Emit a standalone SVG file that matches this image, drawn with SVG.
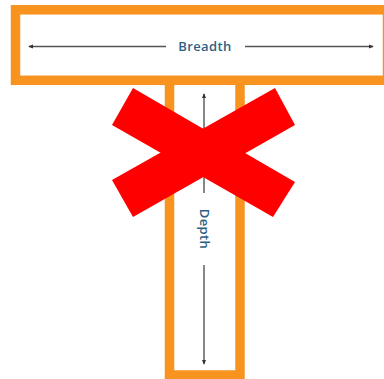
<svg xmlns="http://www.w3.org/2000/svg" width="384" height="379" viewBox="0 0 384 379">
<defs>
<style>
.frame{fill:#fff;stroke:#F7931E;stroke-width:9.5}
.dim{stroke:#555;stroke-width:1.4;fill:none}
.lbl{font-family:"Open Sans","Liberation Sans",sans-serif;font-size:13px;font-weight:600;fill:#2E5F82;letter-spacing:0.4px}
</style>
<marker id="ah" viewBox="0 0 6 6" refX="5" refY="3" markerWidth="5" markerHeight="5" orient="auto-start-reverse" markerUnits="userSpaceOnUse">
<path d="M0,0.5 L6,3 L0,5.5 Z" fill="#333"/>
</marker>
</defs>
<rect width="384" height="379" fill="#fff"/>
<g id="stem">
<rect class="frame" x="169.5" y="78" width="70.5" height="297"/>
</g>
<g id="top">
<rect class="frame" x="15.5" y="9.8" width="372" height="70.5"/>
</g>
<g id="connectors">
<line class="dim" x1="29" y1="46.5" x2="166" y2="46.5" marker-start="url(#ah)"/>
<line class="dim" x1="245" y1="46.5" x2="373" y2="46.5" marker-end="url(#ah)"/>
<line class="dim" x1="204" y1="94" x2="204" y2="193" marker-start="url(#ah)"/>
<line class="dim" x1="204" y1="265" x2="204" y2="364" marker-end="url(#ah)"/>
</g>
<g id="labels">
<text class="lbl" x="205" y="51" text-anchor="middle">Breadth</text>
<text class="lbl" transform="translate(199.5,229) rotate(90)" text-anchor="middle">Depth</text>
</g>
<g id="cross">
<polygon points="133,88 295,182 273,217 112,125" fill="#FF0000"/>
<polygon points="275,88 295,125 133,217 112,180" fill="#FF0000"/>
</g>
</svg>
